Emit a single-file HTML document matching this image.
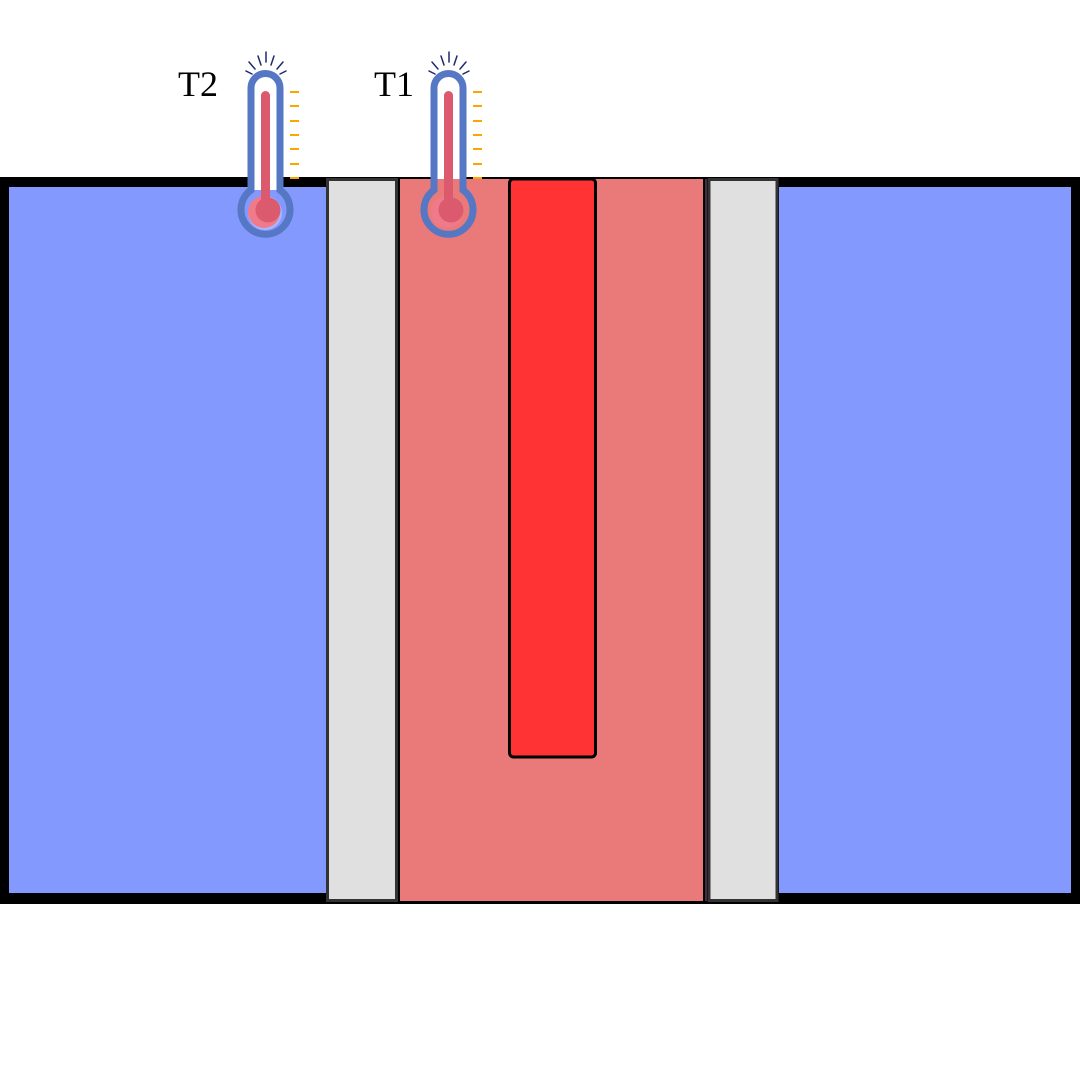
<!DOCTYPE html>
<html><head><meta charset="utf-8"><style>html,body{margin:0;padding:0;background:#fff}svg{display:block}</style></head>
<body>
<svg width="1080" height="1080" viewBox="0 0 1080 1080">
<rect x="0" y="0" width="1080" height="1080" fill="#fff"/>
<rect x="0" y="177" width="1080" height="727" fill="#000"/>
<rect x="9" y="187" width="317" height="706" fill="#8499fe"/>
<rect x="779" y="187" width="292" height="706" fill="#8499fe"/>
<rect x="327.5" y="179.5" width="69" height="721" fill="#e0e0e0" stroke="#333" stroke-width="3"/>
<rect x="709" y="179.5" width="68" height="721" fill="#e0e0e0" stroke="#333" stroke-width="3"/>
<rect x="400" y="179" width="303" height="722" fill="#ea7a7a"/>
<line x1="706" y1="179" x2="706" y2="901" stroke="#8a5a8a" stroke-width="1"/>
<rect x="509.5" y="179" width="86" height="578" rx="4" fill="#ff3333" stroke="#000" stroke-width="3"/>

<g>
  <text x="178" y="96" font-family="Liberation Serif, serif" font-size="36" fill="#000">T2</text>
  <g stroke="#1e2a6b" stroke-width="1.5" stroke-linecap="round">
    <line x1="266" y1="52" x2="266" y2="62"/><line x1="258" y1="56" x2="261" y2="65"/><line x1="274" y1="56" x2="271" y2="65"/>
    <line x1="249" y1="62" x2="255" y2="69"/><line x1="283" y1="62" x2="277" y2="69"/><line x1="246" y1="71" x2="252" y2="74"/><line x1="286" y1="71" x2="280" y2="74"/>
  </g>
  <path d="M253,88 A12.5,12.5 0 0 1 278,88 L278,190 L253,190 Z" fill="#fff"/>
  <circle cx="265" cy="213" r="17" fill="#a8b6fe"/>
  <path d="M251,190 L251,88 A14.5,14.5 0 0 1 280,88 L280,190 A24.5,24.5 0 1 1 251,190 Z" fill="none" stroke="#5577c4" stroke-width="7"/>
  <circle cx="264" cy="212" r="16" fill="#ef7a8a"/>
  <circle cx="268" cy="210" r="12.5" fill="#dc5a6e"/>
  <rect x="261" y="91" width="9" height="115" rx="4.5" fill="#dc5a6e"/>
  <g stroke="#ffa500" stroke-width="2">
    <line x1="290" y1="92" x2="299" y2="92"/><line x1="290" y1="106" x2="299" y2="106"/><line x1="290" y1="121" x2="299" y2="121"/>
    <line x1="290" y1="135" x2="299" y2="135"/><line x1="290" y1="149" x2="299" y2="149"/><line x1="290" y1="164" x2="299" y2="164"/><line x1="290" y1="178" x2="299" y2="178"/>
  </g>
</g>
<g>
  <text x="374" y="96" font-family="Liberation Serif, serif" font-size="36" fill="#000">T1</text>
  <g stroke="#1e2a6b" stroke-width="1.5" stroke-linecap="round">
    <line x1="449" y1="52" x2="449" y2="62"/><line x1="441" y1="56" x2="444" y2="65"/><line x1="457" y1="56" x2="454" y2="65"/>
    <line x1="432" y1="62" x2="438" y2="69"/><line x1="466" y1="62" x2="460" y2="69"/><line x1="429" y1="71" x2="435" y2="74"/><line x1="469" y1="71" x2="463" y2="74"/>
  </g>
  <path d="M436,88 A12.5,12.5 0 0 1 461,88 L461,179 L436,179 Z" fill="#fff"/>
  <path d="M434,190 L434,88 A14.5,14.5 0 0 1 463,88 L463,190 A24.5,24.5 0 1 1 434,190 Z" fill="none" stroke="#5577c4" stroke-width="7"/>
  <circle cx="447" cy="212" r="16" fill="#ef7a8a"/>
  <circle cx="451" cy="210" r="12.5" fill="#dc5a6e"/>
  <rect x="444" y="91" width="9" height="115" rx="4.5" fill="#dc5a6e"/>
  <g stroke="#ffa500" stroke-width="2">
    <line x1="473" y1="92" x2="482" y2="92"/><line x1="473" y1="106" x2="482" y2="106"/><line x1="473" y1="121" x2="482" y2="121"/>
    <line x1="473" y1="135" x2="482" y2="135"/><line x1="473" y1="149" x2="482" y2="149"/><line x1="473" y1="164" x2="482" y2="164"/><line x1="473" y1="178" x2="482" y2="178"/>
  </g>
</g>
</svg>
</body></html>
